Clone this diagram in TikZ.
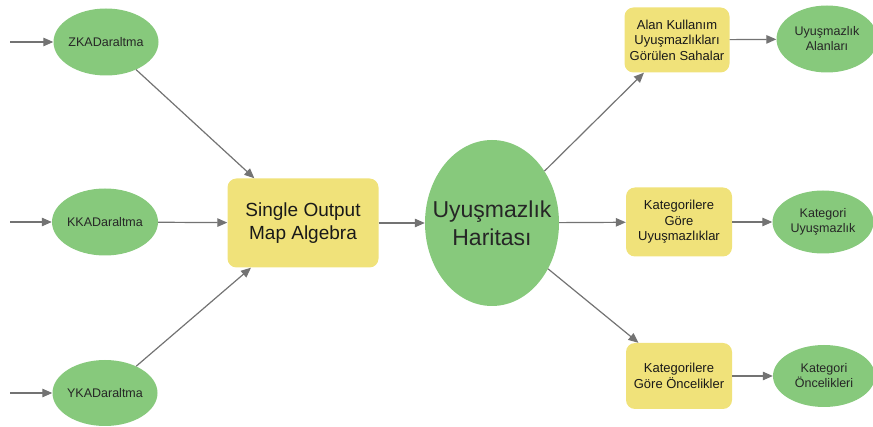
\documentclass[tikz,border=0pt]{standalone}
\usepackage{fontspec}
\setmainfont{Liberation Sans}
\usetikzlibrary{shapes.geometric}
\usetikzlibrary{arrows.meta}

\definecolor{veriyesil}{RGB}{135,201,124}
\definecolor{islemsari}{RGB}{240,226,122}
\definecolor{okgri}{RGB}{115,115,115}

\tikzset{
  veri/.style={ellipse, fill=veriyesil, inner sep=-5pt, align=center,
    text=black!85, font=\fontsize{12.5}{15}\selectfont},
  kutu/.style={rectangle, rounded corners=9pt, fill=islemsari, inner sep=0pt,
    align=center, text=black!90, font=\fontsize{13}{15.5}\selectfont},
  akis/.style={draw=okgri, line width=1.2pt,
    -{Triangle[length=10pt,width=8.5pt]}}
}

\begin{document}
\begin{tikzpicture}[x=1pt,y=-1pt]
        \clip (0,0) rectangle (873,427);

        % girdiler
        \node[veri, minimum width=105pt, minimum height=67pt] (zka) at (106,42) {ZKADaraltma};
        \node[veri, minimum width=106pt, minimum height=67pt] (kka) at (105,222) {KKADaraltma};
        \node[veri, minimum width=105pt, minimum height=66pt] (yka) at (105,393) {YKADaraltma};
        \coordinate (zka-in) at (10,42);
        \coordinate (kka-in) at (10,222);
        \coordinate (yka-in) at (10,393);

        \node[kutu, minimum width=151pt, minimum height=89pt,
          font=\fontsize{19}{23}\selectfont] (soma) at (303,223) {Single Output\\Map Algebra};
        \node[veri, inner sep=-18pt, minimum width=134pt, minimum height=166pt,
          font=\fontsize{23}{28}\selectfont] (harita) at (492,223) {Uyuşmazlık\\Haritası};

        % ara sonuclar
        \node[kutu, minimum width=105pt, minimum height=65pt] (alan) at (677,40)
          {Alan Kullanım\\Uyuşmazlıkları\\Görülen Sahalar};
        \node[kutu, minimum width=106pt, minimum height=69pt] (kuyus) at (679,222)
          {Kategorilere\\Göre\\Uyuşmazlıklar};
        \node[kutu, minimum width=106pt, minimum height=66pt] (koncel) at (679,376)
          {Kategorilere\\Göre Öncelikler};

        % ciktilar
        \node[veri, minimum width=101pt, minimum height=67pt] (alanlar) at (827,39)
          {Uyuşmazlık\\Alanları};
        \node[veri, minimum width=101pt, minimum height=63pt] (kategori) at (823,222)
          {Kategori\\Uyuşmazlık};
        \node[veri, minimum width=102pt, minimum height=62pt] (oncelik) at (824,376)
          {Kategori\\Öncelikleri};

        \draw[akis] (zka-in) -- (zka);
        \draw[akis] (kka-in) -- (kka);
        \draw[akis] (yka-in) -- (yka);
        \draw[akis] (zka) -- (soma);
        \draw[akis] (kka) -- (soma);
        \draw[akis] (yka) -- (soma);
        \draw[akis] (soma) -- (harita);
        \draw[akis] (harita) -- (alan);
        \draw[akis] (harita) -- (kuyus);
        \draw[akis] (harita) -- (koncel);
        \draw[akis] (alan) -- (alanlar);
        \draw[akis] (kuyus) -- (kategori);
        \draw[akis] (koncel) -- (oncelik);
      \end{tikzpicture}
\end{document}
